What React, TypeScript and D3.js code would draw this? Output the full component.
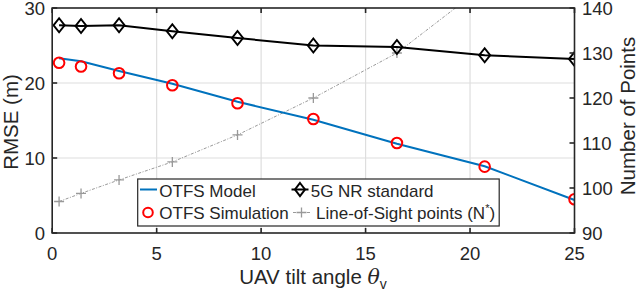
import React from "react";
import * as d3 from "d3";

const angles = [0.33, 1.38, 3.2, 5.75, 8.87, 12.5, 16.5, 20.7, 25];
const nrRmse = [27.7, 27.6, 27.7, 26.9, 26.0, 25.0, 24.8, 23.7, 23.2];
const otfsSim = [22.7, 22.2, 21.3, 19.7, 17.3, 15.2, 12.0, 8.85, 4.5];
const otfsModel = [23.3, 22.9, 21.6, 19.9, 17.5, 15.1, 11.9, 8.9, 4.4];
const losPoints = [97, 98.8, 101.8, 105.8, 111.8, 120, 130, 145, 162];

const xTicks = [0, 5, 10, 15, 20, 25];
const yLeftTicks = [0, 10, 20, 30];
const yRightTicks = [90, 100, 110, 120, 130, 140];

const FONT = "'Liberation Sans', Arial, Helvetica, sans-serif";
const TXT = "#262626";

export default function App() {
  const L = 52.2, R = 574.5, T = 8, B = 233;
  const x = d3.scaleLinear().domain([0, 25]).range([L, R]);
  const yL = d3.scaleLinear().domain([0, 30]).range([B, T]);
  const yR = d3.scaleLinear().domain([90, 140]).range([B, T]);

  const lineL = (vals: number[]) =>
    d3.line<number>().x((_, i) => x(angles[i])).y((d) => yL(d))(vals) || "";
  const lineR = d3.line<number>().x((_, i) => x(angles[i])).y((d) => yR(d))(losPoints) || "";

  const diamond = (cx: number, cy: number, w = 5.5, h = 7) =>
    `M${cx},${cy - h}L${cx + w},${cy}L${cx},${cy + h}L${cx - w},${cy}Z`;
  const plus = (cx: number, cy: number, s = 5) =>
    `M${cx - s},${cy}H${cx + s}M${cx},${cy - s}V${cy + s}`;

  const tl = 5;
  return (
    <svg width={640} height={292} style={{ position: "absolute", left: 0, top: 0, background: "#fff" }} fontFamily={FONT}>
      <defs>
        <clipPath id="plotclip">
          <rect x={L} y={T} width={R - L} height={B - T} />
        </clipPath>
      </defs>
      <rect x={0} y={0} width={640} height={292} fill="#fff" />
      {/* grid */}
      {xTicks.slice(1, -1).map((t) => (
        <line key={"gx" + t} x1={x(t)} x2={x(t)} y1={T} y2={B} stroke="#dedede" strokeWidth={1.2} />
      ))}
      {yLeftTicks.slice(1, -1).map((t) => (
        <line key={"gy" + t} x1={L} x2={R} y1={yL(t)} y2={yL(t)} stroke="#dedede" strokeWidth={1.2} />
      ))}
      <g clipPath="url(#plotclip)">
        {/* LoS gray */}
        <path d={lineR} fill="none" stroke="#999" strokeWidth={1} strokeDasharray="3,1.5,1,1.5" />
        {losPoints.map((v, i) => (
          <path key={"p" + i} d={plus(x(angles[i]), yR(v))} stroke="#999" strokeWidth={1.3} fill="none" />
        ))}
        {/* 5G NR */}
        <path d={lineL(nrRmse)} fill="none" stroke="#000" strokeWidth={2} />
        {nrRmse.map((v, i) => (
          <path key={"d" + i} d={diamond(x(angles[i]), yL(v))} fill="none" stroke="#000" strokeWidth={2} />
        ))}
        {/* OTFS model */}
        <path d={lineL(otfsModel)} fill="none" stroke="#0072BD" strokeWidth={2} />
        {otfsSim.map((v, i) => (
          <circle key={"c" + i} cx={x(angles[i])} cy={yL(v)} r={5.3} fill="none" stroke="#ff0000" strokeWidth={2} />
        ))}
      </g>
      {/* axes box */}
      <rect x={L} y={T} width={R - L} height={B - T} fill="none" stroke="#262626" strokeWidth={1.6} />
      {xTicks.map((t) => (
        <g key={"xt" + t}>
          <line x1={x(t)} x2={x(t)} y1={B} y2={B - tl} stroke="#262626" strokeWidth={1.6} />
          <line x1={x(t)} x2={x(t)} y1={T} y2={T + tl} stroke="#262626" strokeWidth={1.6} />
          <text x={x(t)} y={260} textAnchor="middle" fontSize={18.5} fill={TXT}>{t}</text>
        </g>
      ))}
      {yLeftTicks.map((t) => (
        <g key={"yl" + t}>
          <line x1={L} x2={L + tl} y1={yL(t)} y2={yL(t)} stroke="#262626" strokeWidth={1.6} />
          <text x={45} y={yL(t) + 6.6} textAnchor="end" fontSize={18.5} fill={TXT}>{t}</text>
        </g>
      ))}
      {yRightTicks.map((t) => (
        <g key={"yr" + t}>
          <line x1={R} x2={R - tl} y1={yR(t)} y2={yR(t)} stroke="#262626" strokeWidth={1.6} />
          <text x={582} y={yR(t) + 6.6} textAnchor="start" fontSize={18.5} fill={TXT}>{t}</text>
        </g>
      ))}
      {/* axis labels */}
      <text x={313} y={284} textAnchor="middle" fontSize={20.5} fill={TXT}>
        UAV tilt angle <tspan fontStyle="italic" fontFamily="'DejaVu Serif', serif">θ</tspan>
        <tspan fontSize={14} dy={5}>v</tspan>
      </text>
      <text transform="translate(18,122) rotate(-90)" textAnchor="middle" fontSize={20.5} fill={TXT}>RMSE (m)</text>
      <text transform="translate(635,116) rotate(-90)" textAnchor="middle" fontSize={20.5} fill={TXT}>Number of Points</text>
      {/* legend */}
      <rect x={137.7} y={179} width={361.5} height={47} fill="#fff" stroke="#262626" strokeWidth={1.2} />
      <line x1={140} x2={157} y1={189.5} y2={189.5} stroke="#0072BD" strokeWidth={2} />
      <text x={159.3} y={196.5} fontSize={17} fill={TXT}>OTFS Model</text>
      <line x1={291.5} x2={308.5} y1={189.5} y2={189.5} stroke="#000" strokeWidth={2} />
      <path d={diamond(300, 189.5, 5, 6.5)} fill="none" stroke="#000" strokeWidth={2} />
      <text x={310.7} y={196.5} fontSize={17} fill={TXT}>5G NR standard</text>
      <circle cx={148} cy={212.5} r={4.8} fill="none" stroke="#ff0000" strokeWidth={2} />
      <text x={159.3} y={219} fontSize={17} fill={TXT}>OTFS Simulation</text>
      <line x1={293} x2={310} y1={212.5} y2={212.5} stroke="#999" strokeWidth={1} strokeDasharray="3,1.5,1,1.5" />
      <path d={plus(301.5, 212.5)} stroke="#999" strokeWidth={1.3} fill="none" />
      <text x={316} y={219} fontSize={17} fill={TXT}>
        Line-of-Sight points (N<tspan fontSize={11} dy={-7}>*</tspan><tspan dy={7}>)</tspan>
      </text>
    </svg>
  );
}
